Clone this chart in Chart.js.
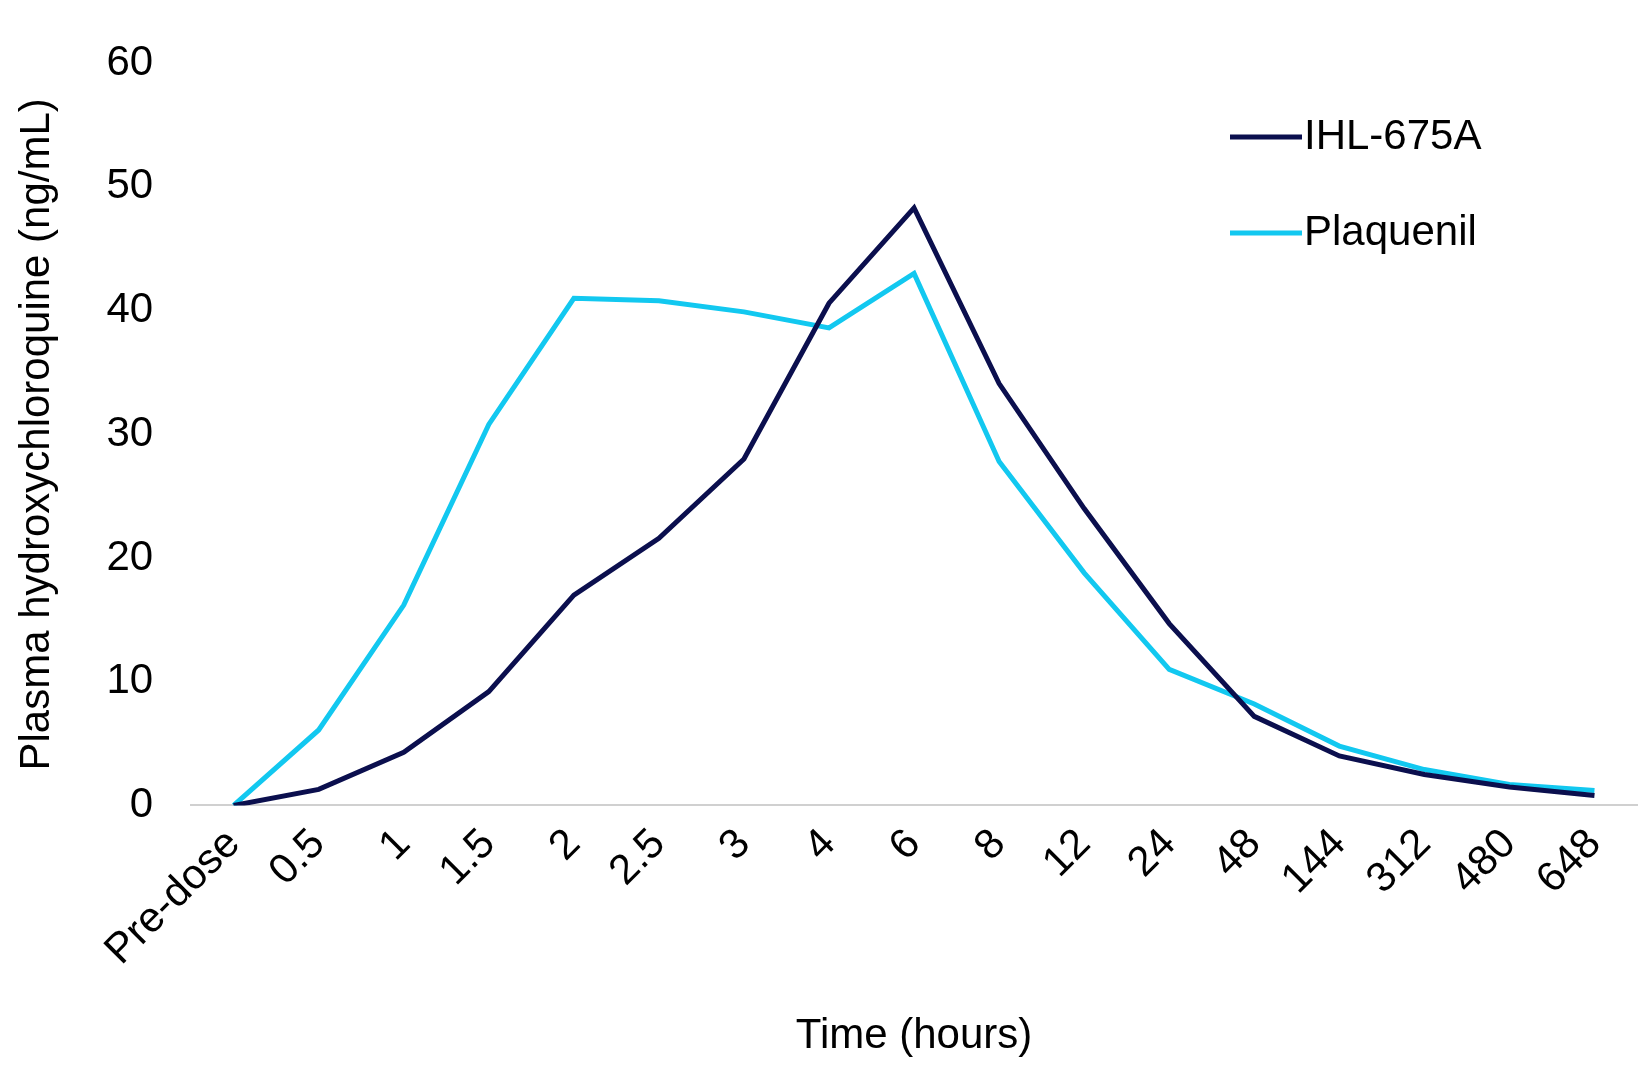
<!DOCTYPE html>
<html>
<head>
<meta charset="utf-8">
<script src="https://cdn.jsdelivr.net/npm/chart.js@4"></script>
<style>
  body { margin: 0; background: #fff; }
  #wrap { width: 1645px; height: 1066px; }
</style>
</head>
<body>
<div id="wrap"><canvas id="pkChart"></canvas></div>
<script>
const timeLabels = ['Pre-dose', '0.5', '1', '1.5', '2', '2.5', '3', '4', '6', '8', '12', '24', '48', '144', '312', '480', '648'];
const ihlValues = [0, 1.3, 4.3, 9.2, 17, 21.6, 28, 40.6, 48.3, 34.1, 24, 14.7, 7.2, 4, 2.5, 1.5, 0.8];
const plaquenilValues = [0, 6.1, 16.2, 30.8, 41, 40.8, 39.9, 38.6, 43, 27.8, 18.8, 11, 8.2, 4.8, 2.9, 1.7, 1.2];
const yTicks = [0, 10, 20, 30, 40, 50, 60];

const fontFamily = '"Liberation Sans", Arial, sans-serif';

// legend drawn inside the plot, lines to the left of names
const insideLegend = {
    id: 'insideLegend',
    afterDraw(chart) {
        const c = chart.ctx;
        c.save();
        c.font = '42px ' + fontFamily;
        c.textBaseline = 'middle';
        chart.data.datasets.forEach((ds, i) => {
            const y = 137 + i * 96;
            c.strokeStyle = ds.borderColor;
            c.lineWidth = 5;
            c.beginPath();
            c.moveTo(1230, y);
            c.lineTo(1302, y);
            c.stroke();
            c.fillStyle = '#000';
            c.fillText(ds.label, 1304, y);
        });
        c.restore();
    }
};

const ctx = document.getElementById('pkChart').getContext('2d');
new Chart(ctx, {
    type: 'line',
    data: {
        labels: timeLabels,
        datasets: [
            { label: 'IHL-675A', data: ihlValues, borderColor: '#0b0f4e', borderWidth: 5, pointRadius: 0, tension: 0 },
            { label: 'Plaquenil', data: plaquenilValues, borderColor: '#12c8f0', borderWidth: 5, pointRadius: 0, tension: 0 }
        ]
    },
    options: {
        responsive: true,
        maintainAspectRatio: false,
        animation: false,
        layout: { padding: { top: 0, right: 8, left: 8, bottom: 0 } },
        plugins: { legend: { display: false }, tooltip: { enabled: false } },
        scales: {
            x: {
                offset: true,
                grid: { display: false, drawTicks: false },
                border: { color: '#d0d0d0', width: 2 },
                ticks: { color: '#000', font: { size: 42, family: fontFamily }, maxRotation: 45, minRotation: 45, padding: 14 },
                title: { display: true, text: 'Time (hours)', color: '#000', font: { size: 42, family: fontFamily }, padding: { top: 22 } }
            },
            y: {
                min: 0, max: 60,
                afterBuildTicks(axis) { axis.ticks = yTicks.map(v => ({ value: v })); },
                grid: { display: false, drawTicks: false },
                border: { display: false },
                ticks: { color: '#000', font: { size: 42, family: fontFamily }, padding: 38 },
                title: { display: true, text: 'Plasma hydroxychloroquine (ng/mL)', color: '#000', font: { size: 42, family: fontFamily }, padding: { bottom: 6 } }
            }
        }
    },
    plugins: [insideLegend]
});
</script>
</body>
</html>
